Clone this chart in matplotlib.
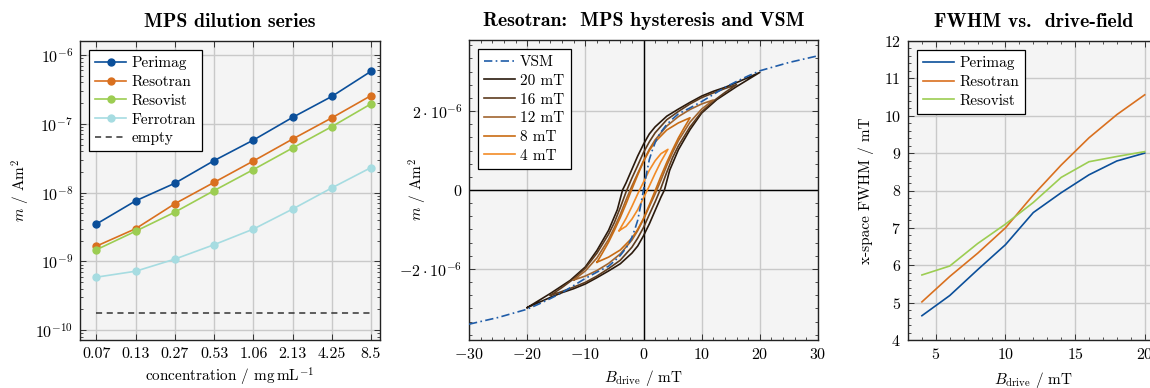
import numpy as np
import matplotlib
matplotlib.use('Agg')
import matplotlib.pyplot as plt
from matplotlib.ticker import (FixedLocator, MultipleLocator, LogLocator,
                               NullFormatter, FixedFormatter, FuncFormatter)

plt.rcParams['font.family'] = ['cmr10', 'DejaVu Sans']
plt.rcParams['mathtext.fontset'] = 'cm'
plt.rcParams['axes.unicode_minus'] = False
plt.rcParams['axes.formatter.use_mathtext'] = True

# ---------------- data: dilution series ----------------
concentrations = ['0.07', '0.13', '0.27', '0.53', '1.06', '2.13', '4.25', '8.5']
perimag = [3.5e-9, 7.6e-9, 1.37e-8, 2.92e-8, 5.8e-8, 1.24e-7, 2.5e-7, 5.8e-7]
resotran = [1.67e-9, 2.99e-9, 6.9e-9, 1.41e-8, 2.88e-8, 6.0e-8, 1.22e-7, 2.57e-7]
resovist = [1.48e-9, 2.75e-9, 5.2e-9, 1.07e-8, 2.16e-8, 4.45e-8, 9.1e-8, 1.95e-7]
ferrotran = [5.9e-10, 7.2e-10, 1.08e-9, 1.75e-9, 2.95e-9, 5.76e-9, 1.17e-8, 2.31e-8]
empty = [1.77e-10, 1.77e-10, 1.77e-10, 1.77e-10, 1.77e-10, 1.77e-10, 1.77e-10, 1.77e-10]

# ---------------- data: Resotran hysteresis (values in 1e-6 Am^2) ----------------
vsm_B = [-30, -25, -20, -18, -16, -14, -12, -10, -8, -6, -5, -4, -3, -2.5, -2, -1.5, -1, -0.5, 0,
         0.5, 1, 1.5, 2, 2.5, 3, 4, 5, 6, 8, 10, 12, 14, 16, 18, 20, 25, 30]
vsm_m = [-3.40, -3.23, -3.02, -2.89, -2.75, -2.60, -2.42, -2.24, -2.08, -1.93, -1.80, -1.66,
         -1.47, -1.35, -1.20, -1.00, -0.77, -0.40, 0.0,
         0.40, 0.77, 1.00, 1.20, 1.35, 1.47, 1.66, 1.80, 1.93, 2.08, 2.24, 2.42, 2.60, 2.75,
         2.89, 3.02, 3.23, 3.40]

# ascending branches (field rising from -Bmax to +Bmax); descending branch is point-symmetric
loop_labels = ['20 mT', '16 mT', '12 mT', '8 mT', '4 mT']
asc20_B = [-20, -18, -16, -14, -12, -10, -8, -6, -4, -2, -1, 0, 1, 2, 3, 3.6, 4.5, 6, 8, 10,
           12.6, 16, 18, 20]
asc20_m = [-2.98, -2.85, -2.72, -2.60, -2.50, -2.38, -2.22, -2.05, -1.87, -1.60, -1.42, -1.16,
           -0.86, -0.52, -0.18, 0.0, 0.50, 1.02, 1.53, 1.95, 2.29, 2.62, 2.80, 2.98]
asc16_B = [-16, -14, -12, -10, -8, -6, -4, -2, -1, 0, 1, 2, 3, 4, 5, 6, 8, 10, 12, 14, 16]
asc16_m = [-2.67, -2.57, -2.46, -2.34, -2.18, -1.99, -1.78, -1.45, -1.22, -0.95, -0.62, -0.30,
           0.05, 0.45, 0.82, 1.12, 1.60, 1.98, 2.25, 2.47, 2.67]
asc12_B = [-12, -10, -8, -6, -4, -2, -1, 0, 1, 2, 3, 4, 5, 6, 8, 10, 12]
asc12_m = [-2.28, -2.18, -2.04, -1.86, -1.62, -1.27, -1.03, -0.74, -0.42, -0.10, 0.25, 0.62,
           0.95, 1.25, 1.72, 2.05, 2.28]
asc8_B = [-8, -6, -4, -2, -1, 0, 1, 2, 3, 4, 5, 6, 7, 8]
asc8_m = [-1.83, -1.70, -1.52, -1.22, -1.00, -0.72, -0.38, -0.02, 0.35, 0.70, 1.02, 1.32,
          1.58, 1.83]
asc4_B = [-4.2, -3, -2, -1, 0, 1, 2, 3, 4.2]
asc4_m = [-1.03, -0.92, -0.74, -0.50, -0.20, 0.10, 0.42, 0.72, 1.03]

# ---------------- data: FWHM ----------------
drive_field = [4, 6, 8, 10, 12, 14, 16, 18, 20]
fwhm_perimag = [4.65, 5.19, 5.88, 6.55, 7.41, 7.94, 8.42, 8.79, 9.0]
fwhm_resotran = [5.02, 5.70, 6.32, 7.0, 7.88, 8.68, 9.41, 10.03, 10.56]
fwhm_resovist = [5.74, 5.98, 6.58, 7.1, 7.68, 8.35, 8.77, 8.91, 9.04]

# ---------------- styling ----------------
C_PERI = '#0b4f9a'
C_RESO = '#d9701f'
C_RESV = '#9ccd52'
C_FERR = '#a6dce1'
C_VSM = '#1f5ca8'
loop_colors = ['#2a1a0d', '#5e3c1f', '#a1652f', '#c96c13', '#f28b26']
FACE = '#f4f4f4'
GRID = '#c9c9c9'
FS_TICK = 11.5
FS = 11
FS_TITLE = 14.3

W, H = 1150, 388
fig = plt.figure(figsize=(W / 100, H / 100), dpi=100)


def px_axes(x0, y0, x1, y1):
    return fig.add_axes([x0 / W, 1 - y1 / H, (x1 - x0) / W, (y1 - y0) / H])


def style(ax):
    ax.set_facecolor(FACE)
    ax.tick_params(which='both', direction='in', top=True, right=True,
                   labelsize=FS_TICK, color='#333333')
    ax.tick_params(which='major', length=4.5, width=0.7, pad=5)
    ax.tick_params(which='minor', length=2.5, width=0.6)
    for s in ax.spines.values():
        s.set_linewidth(1.0)
        s.set_color('#222222')
    ax.set_axisbelow(True)


def legend(ax, **kw):
    lg = ax.legend(loc='upper left', fontsize=FS, frameon=True, fancybox=False,
                   edgecolor='black', framealpha=1, borderaxespad=0.6,
                   handlelength=2.0, handletextpad=0.35, labelspacing=0.33,
                   borderpad=0.4, **kw)
    lg.get_frame().set_linewidth(0.9)
    return lg


# ---------------- left: dilution series ----------------
ax1 = px_axes(80, 41, 380, 340)
style(ax1)
xs = np.arange(len(concentrations))
mk = dict(marker='o', markersize=5, linewidth=1.2)
ax1.plot(xs, perimag, color=C_PERI, label='Perimag', **mk)
ax1.plot(xs, resotran, color=C_RESO, label='Resotran', **mk)
ax1.plot(xs, resovist, color=C_RESV, label='Resovist', **mk)
ax1.plot(xs, ferrotran, color=C_FERR, label='Ferrotran', **mk)
ax1.plot(xs, empty, color='#333333', linestyle=(0, (4, 3)), linewidth=1.1, label='empty')
ax1.set_yscale('log')
ax1.set_ylim(7.2e-11, 1.6e-6)
ax1.set_xlim(-0.42, 7.23)
ax1.set_xticks(xs)
ax1.set_xticklabels(concentrations)
ax1.yaxis.set_major_locator(LogLocator(base=10, numticks=20))
ax1.yaxis.set_minor_locator(LogLocator(base=10, subs=np.arange(2, 10), numticks=50))
ax1.yaxis.set_minor_formatter(NullFormatter())
ax1.grid(True, which='major', color=GRID, linewidth=1.0)
ax1.set_xlabel(r'concentration / mg$\,$mL$^{-1}$', fontsize=FS)
ax1.set_ylabel(r'$m$ / Am$^2$', fontsize=FS)
ax1.yaxis.set_label_coords(-0.16, 0.5)
ax1.xaxis.set_label_coords(0.5, -0.087)
ax1.set_title('MPS dilution series', fontsize=FS_TITLE, fontfamily='cmb10', pad=10)
legend(ax1)

# ---------------- middle: hysteresis ----------------
ax2 = px_axes(469, 40, 818, 340)
style(ax2)
ax2.axhline(0, color='black', linewidth=1.0, zorder=1)
ax2.axvline(0, color='black', linewidth=1.0, zorder=1)
ax2.plot(np.array(vsm_B), np.array(vsm_m) * 1e-6, color=C_VSM, linewidth=1.2,
         linestyle=(0, (5, 2, 1, 2)), label='VSM', zorder=5)
loops = [(asc20_B, asc20_m), (asc16_B, asc16_m), (asc12_B, asc12_m),
         (asc8_B, asc8_m), (asc4_B, asc4_m)]
for (bb, mm), col, lab in zip(loops, loop_colors, loop_labels):
    bb = np.array(bb, dtype=float)
    mm = np.array(mm, dtype=float) * 1e-6
    # closed loop: ascending branch then its point reflection (descending branch)
    B_loop = np.concatenate([bb, -bb])
    m_loop = np.concatenate([mm, -mm])
    ax2.plot(B_loop, m_loop, color=col, linewidth=1.2, label=lab, zorder=3)
ax2.set_xlim(-30, 30)
ax2.set_ylim(-3.8e-6, 3.8e-6)
ax2.xaxis.set_major_locator(FixedLocator([-30, -20, -10, 0, 10, 20, 30]))
ax2.xaxis.set_major_formatter(FixedFormatter(
    [r'$-30$', r'$-20$', r'$-10$', r'$0$', r'$10$', r'$20$', r'$30$']))
ax2.xaxis.set_minor_locator(MultipleLocator(2))
ax2.yaxis.set_major_locator(FixedLocator([-2e-6, 0, 2e-6]))
ax2.yaxis.set_major_formatter(FixedFormatter(
    [r'$-2\cdot10^{-6}$', r'$0$', r'$2\cdot10^{-6}$']))
ax2.yaxis.set_minor_locator(MultipleLocator(2e-6 / 6))
ax2.grid(True, which='major', color=GRID, linewidth=1.0)
ax2.set_xlabel(r'$B_{\mathrm{drive}}$ / mT', fontsize=FS)
ax2.set_ylabel(r'$m$ / Am$^2$', fontsize=FS)
ax2.yaxis.set_label_coords(-0.115, 0.5)
ax2.xaxis.set_label_coords(0.5, -0.095)
ax2.set_title('Resotran:  MPS hysteresis and VSM', fontsize=FS_TITLE, fontfamily='cmb10', pad=10)
legend(ax2)

# ---------------- right: FWHM ----------------
ax3 = px_axes(908, 41, 1158.6, 340)
style(ax3)
ax3.plot(drive_field, fwhm_perimag, color=C_PERI, linewidth=1.2, label='Perimag')
ax3.plot(drive_field, fwhm_resotran, color=C_RESO, linewidth=1.2, label='Resotran')
ax3.plot(drive_field, fwhm_resovist, color=C_RESV, linewidth=1.2, label='Resovist')
ax3.set_xlim(3, 21)
ax3.set_ylim(4, 12)
ax3.xaxis.set_major_locator(FixedLocator([5, 10, 15, 20]))
ax3.xaxis.set_major_formatter(FixedFormatter([r'$5$', r'$10$', r'$15$', r'$20$']))
ax3.xaxis.set_minor_locator(MultipleLocator(1))
ax3.yaxis.set_major_locator(MultipleLocator(1))
ax3.yaxis.set_major_formatter(FuncFormatter(lambda v, p: r'$%d$' % round(v)))
ax3.yaxis.set_minor_locator(MultipleLocator(0.2))
ax3.grid(True, which='major', color=GRID, linewidth=1.0)
ax3.set_xlabel(r'$B_{\mathrm{drive}}$ / mT', fontsize=FS)
ax3.set_ylabel('x-space FWHM / mT', fontsize=FS)
ax3.yaxis.set_label_coords(-0.136, 0.5)
ax3.xaxis.set_label_coords(0.5, -0.1)
ax3.set_title('FWHM vs.  drive-field', fontsize=FS_TITLE, fontfamily='cmb10', pad=10)
legend(ax3)

fig.savefig('out.png', dpi=100)
